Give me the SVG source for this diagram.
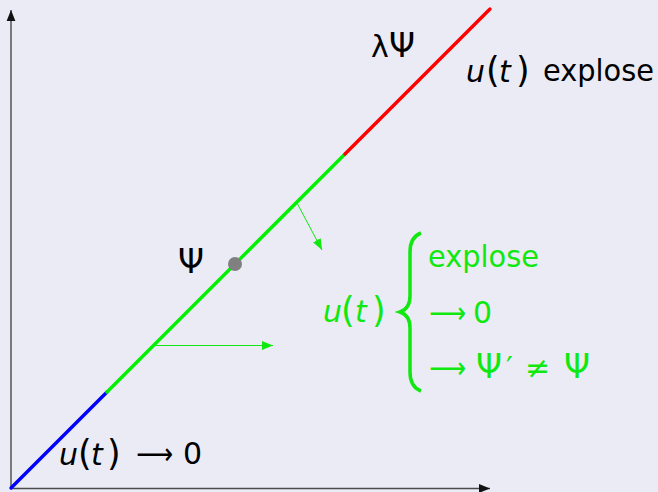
<svg xmlns="http://www.w3.org/2000/svg" width="658" height="492" viewBox="0 0 658 492">
<defs>
<style>
text{font-family:"DejaVu Sans","Liberation Sans",sans-serif;font-size:30px;fill:#000}
.g{fill:#10e810}
.i{font-style:italic}
.p{font-size:35px}
.s{font-size:33px}
.axis{stroke:#4a4a4a;stroke-width:1.4;fill:none}
.seg{stroke-width:3.4;stroke-linecap:round;fill:none}
.conn{stroke:#10e810;stroke-width:1;fill:none}
</style>
<marker id="ah" viewBox="0 0 10 10" refX="10" refY="5" markerWidth="11" markerHeight="11" markerUnits="userSpaceOnUse" orient="auto">
<path d="M0,1 L10,5 L0,9 z" fill="#10e810"/>
</marker>
<marker id="axh" viewBox="0 0 10 10" refX="10" refY="5" markerWidth="11" markerHeight="11" markerUnits="userSpaceOnUse" orient="auto">
<path d="M0,1 L10,5 L0,9 z" fill="#111"/>
</marker>
</defs>
<rect width="658" height="492" fill="#ebebf5"/>
<g id="axes">
<path class="axis" d="M11,489 L11,10" marker-end="url(#axh)"/>
<path class="axis" d="M11,488.5 L490,488.5" marker-end="url(#axh)"/>
</g>
<g id="line-blue"><path class="seg" stroke="#0000ff" d="M11,488 L107,392"/></g>
<g id="line-green"><path class="seg" stroke="#00f000" d="M107,392 L345,154"/></g>
<g id="line-red"><path class="seg" stroke="#ff0000" d="M345,154 L490,9"/></g>
<g id="psi-point"><circle cx="235" cy="264" r="7" fill="#808080"/></g>
<g id="connectors">
<path class="conn" d="M156,345.5 L273,345.5" marker-end="url(#ah)"/>
<path class="conn" d="M297,203 L322,250" marker-end="url(#ah)"/>
</g>
<g id="label-bottom">
<text y="465"><tspan x="59" class="i">u</tspan><tspan x="78" class="p">(</tspan><tspan x="91" class="i">t</tspan><tspan x="107" class="p">)</tspan></text>
<text x="136" y="464" textLength="37" lengthAdjust="spacingAndGlyphs">⟶</text>
<text x="183" y="464">0</text>
</g>
<g id="label-lambda">
<text y="57"><tspan x="371">λ</tspan><tspan x="389" class="s">Ψ</tspan></text>
</g>
<g id="label-explose">
<text y="82"><tspan x="466" class="i">u</tspan><tspan x="486" class="p">(</tspan><tspan x="499" class="i">t</tspan><tspan x="516" class="p">)</tspan></text>
<text x="543" y="81" textLength="111" lengthAdjust="spacingAndGlyphs">explose</text>
</g>
<g id="label-psi">
<text x="178" y="273" class="s">Ψ</text>
</g>
<g id="cases">
<text y="322" class="g"><tspan x="323" class="i">u</tspan><tspan x="341" class="p">(</tspan><tspan x="355" class="i">t</tspan><tspan x="372" class="p">)</tspan></text>
<path d="M421,233 C413,236 410,242 410,252 L410,296 C410,305 406,310 400,312 C406,314 410,319 410,328 L410,372 C410,382 413,388 421,391" fill="none" stroke="#10e810" stroke-width="3.5"/>
<text x="428" y="267" class="g" textLength="111" lengthAdjust="spacingAndGlyphs">explose</text>
<text x="429" y="323" class="g" textLength="37" lengthAdjust="spacingAndGlyphs">⟶</text>
<text x="473" y="323" class="g">0</text>
<text x="429" y="378" class="g" textLength="37" lengthAdjust="spacingAndGlyphs">⟶</text>
<text x="476" y="378" class="g s">Ψ</text>
<text x="506" y="378" class="g">′</text>
<text x="525" y="378" class="g">≠</text>
<text x="564" y="378" class="g s">Ψ</text>
</g>
</svg>
